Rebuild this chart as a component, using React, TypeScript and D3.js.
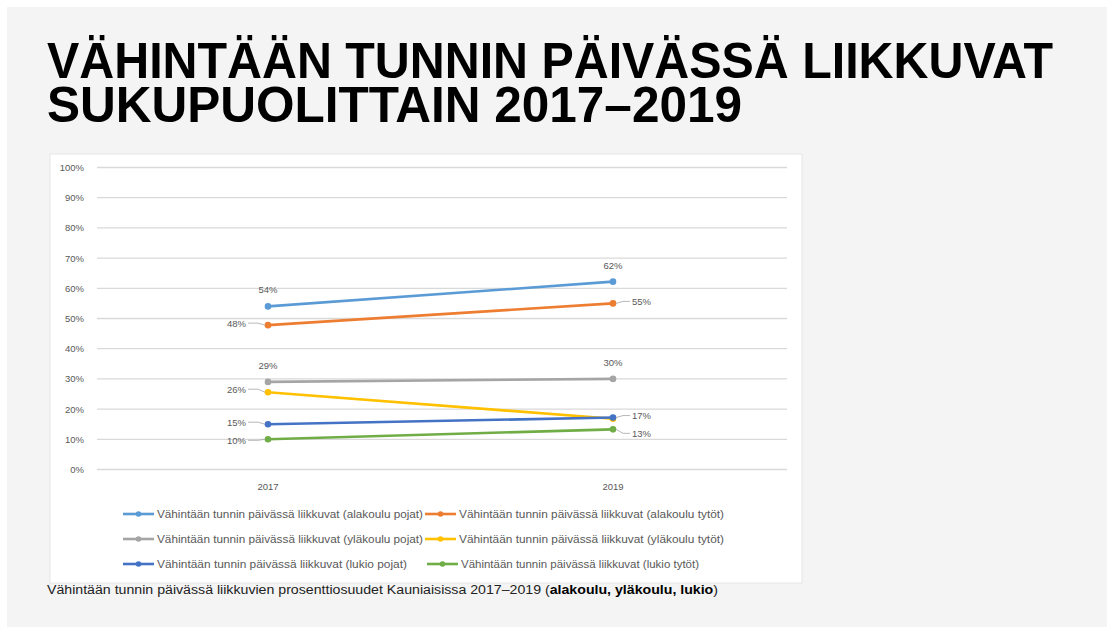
import React from "react";
import * as d3 from "d3";

const years = ["2017", "2019"];
const seriesNames = [
  "Vähintään tunnin päivässä liikkuvat (alakoulu pojat)",
  "Vähintään tunnin päivässä liikkuvat (alakoulu tytöt)",
  "Vähintään tunnin päivässä liikkuvat (yläkoulu pojat)",
  "Vähintään tunnin päivässä liikkuvat (yläkoulu  tytöt)",
  "Vähintään tunnin päivässä liikkuvat (lukio pojat)",
  "Vähintään tunnin päivässä liikkuvat (lukio tytöt)",
];
const alakouluPojat = [54, 62.2];
const alakouluTytot = [47.8, 55];
const ylakouluPojat = [29, 30];
const ylakouluTytot = [25.6, 16.8];
const lukioPojat = [15, 17.2];
const lukioTytot = [10, 13.3];
const seriesValues = [alakouluPojat, alakouluTytot, ylakouluPojat, ylakouluTytot, lukioPojat, lukioTytot];
const colors = ["#5B9BD5", "#ED7D31", "#A5A5A5", "#FFC000", "#4472C4", "#70AD47"];
const yTicks = [0, 10, 20, 30, 40, 50, 60, 70, 80, 90, 100];
// label placement per series per point: "above" | "left" | "right"
const labelPos = [
  ["above", "above"],
  ["left", "right"],
  ["above", "above"],
  ["left", "none"],
  ["left", "right"],
  ["left", "right"],
];

export default function App() {
  const W = 1107, H = 630;
  const x = d3.scalePoint<string>().domain(years).range([268, 613]);
  const y = d3.scaleLinear().domain([0, 100]).range([469.5, 167.5]);
  const line = d3.line<number>().x((_, i) => x(years[i])!).y((d) => y(d));
  const labelColor = "#595959";
  const chartFont = "'Liberation Sans', Arial, sans-serif";

  const legendCols = [123, 425];
  const legendRows = [514, 539, 564];

  return (
    <svg width={W} height={H} style={{ position: "absolute", left: 0, top: 0 }}>
      <rect x={0} y={0} width={W} height={H} fill="#ffffff" />
      <rect x={7} y={7} width={W - 7} height={H - 10} fill="#f4f4f4" />
      <text x={47} y={78} fontFamily="'Liberation Sans Narrow', 'Liberation Sans', Arial, sans-serif" fontWeight="bold" fontSize={50} fill="#000" textLength={1006} lengthAdjust="spacingAndGlyphs">
        VÄHINTÄÄN TUNNIN PÄIVÄSSÄ LIIKKUVAT
      </text>
      <text x={47} y={122} fontFamily="'Liberation Sans Narrow', 'Liberation Sans', Arial, sans-serif" fontWeight="bold" fontSize={50} fill="#000" textLength={695} lengthAdjust="spacingAndGlyphs">
        SUKUPUOLITTAIN 2017–2019
      </text>

      <rect x={50} y={154} width={752} height={429} fill="#ffffff" stroke="#e6e6e6" strokeWidth={1} />

      {yTicks.map((t) => (
        <g key={t}>
          <line x1={97} x2={787} y1={y(t)} y2={y(t)} stroke="#d9d9d9" strokeWidth={1.3} />
          <text x={84} y={y(t) + 3.5} textAnchor="end" fontFamily={chartFont} fontSize={9.5} fill={labelColor}>
            {t}%
          </text>
        </g>
      ))}
      {years.map((yr) => (
        <text key={yr} x={x(yr)!} y={490} textAnchor="middle" fontFamily={chartFont} fontSize={9.5} fill={labelColor}>
          {yr}
        </text>
      ))}

      {seriesValues.map((vals, si) => (
        <g key={si}>
          <path d={line(vals)!} fill="none" stroke={colors[si]} strokeWidth={2.6} />
          {vals.map((v, i) => (
            <circle key={i} cx={x(years[i])!} cy={y(v)} r={3.3} fill={colors[si]} />
          ))}
        </g>
      ))}

      {seriesValues.map((vals, si) =>
        vals.map((v, i) => {
          const pos = labelPos[si][i];
          if (pos === "none") return null;
          const px = x(years[i])!;
          const py = y(v);
          const txt = `${Math.round(v)}%`;
          if (pos === "above") {
            return (
              <text key={`${si}-${i}`} x={px} y={py - 13} textAnchor="middle" fontFamily={chartFont} fontSize={9.5} fill={labelColor}>
                {txt}
              </text>
            );
          }
          if (pos === "left") {
            const ly = si === 3 ? py - 3 : si === 5 ? py + 1 : py - 2;
            return (
              <g key={`${si}-${i}`}>
                <path d={`M${px - 20},${ly} L${px - 10},${ly} L${px - 3},${py}`} fill="none" stroke="#a6a6a6" strokeWidth={0.8} />
                <text x={px - 22} y={ly + 3.5} textAnchor="end" fontFamily={chartFont} fontSize={9.5} fill={labelColor}>
                  {txt}
                </text>
              </g>
            );
          }
          const ly = si === 1 ? py - 2 : si === 4 ? py - 2 : py + 4;
          return (
            <g key={`${si}-${i}`}>
              <path d={`M${px + 3},${py} L${px + 10},${ly} L${px + 17},${ly}`} fill="none" stroke="#a6a6a6" strokeWidth={0.8} />
              <text x={px + 19} y={ly + 3.5} textAnchor="start" fontFamily={chartFont} fontSize={9.5} fill={labelColor}>
                {txt}
              </text>
            </g>
          );
        })
      )}

      {seriesNames.map((name, si) => {
        const col = si % 2;
        const row = Math.floor(si / 2);
        const lx = legendCols[col] + (col === 1 && row === 2 ? 2 : 0);
        const ly = legendRows[row];
        return (
          <g key={name}>
            <line x1={lx} x2={lx + 31} y1={ly} y2={ly} stroke={colors[si]} strokeWidth={2.6} />
            <circle cx={lx + 15.5} cy={ly} r={2.8} fill={colors[si]} />
            <text x={lx + 34} y={ly + 3.5} fontFamily={chartFont} fontSize={10} fill={labelColor} textLength={col === 0 ? (row === 2 ? 250 : 266) : (row === 2 ? 238 : 265)} lengthAdjust="spacingAndGlyphs">
              {name}
            </text>
          </g>
        );
      })}

      <text x={47} y={594} fontFamily="'Liberation Sans', Arial, sans-serif" fontSize={12} fill="#222" textLength={671} lengthAdjust="spacingAndGlyphs">
        Vähintään tunnin päivässä liikkuvien prosenttiosuudet Kauniaisissa 2017–2019 (
        <tspan fontWeight="bold" fill="#000">alakoulu, yläkoulu, lukio</tspan>)
      </text>
    </svg>
  );
}
